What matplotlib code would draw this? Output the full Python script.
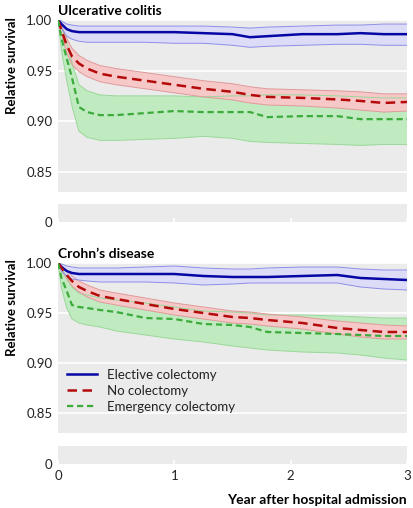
import matplotlib
matplotlib.use("Agg")
import matplotlib.pyplot as plt
import numpy as np

plt.rcParams['font.family'] = ['Lato', 'DejaVu Sans']

# ---------------- data ----------------
years = [0, 0.03, 0.075, 0.12, 0.18, 0.25, 0.36, 0.5, 0.75, 1.0, 1.25, 1.5, 1.65, 1.8, 2.1, 2.4, 2.6, 2.8, 3.0]

# Ulcerative colitis
uc_elective = [1.0, 0.996, 0.991, 0.989, 0.988, 0.988, 0.988, 0.988, 0.988, 0.988, 0.987, 0.986, 0.983, 0.984, 0.986, 0.986, 0.987, 0.986, 0.986]
uc_elective_hi = [1.0, 0.999, 0.996, 0.995, 0.994, 0.994, 0.994, 0.994, 0.994, 0.994, 0.994, 0.993, 0.992, 0.993, 0.994, 0.995, 0.995, 0.996, 0.996]
uc_elective_lo = [1.0, 0.992, 0.984, 0.981, 0.979, 0.978, 0.978, 0.978, 0.978, 0.977, 0.977, 0.975, 0.973, 0.974, 0.975, 0.976, 0.976, 0.975, 0.975]

uc_none = [1.0, 0.990, 0.975, 0.964, 0.957, 0.952, 0.947, 0.944, 0.940, 0.936, 0.932, 0.929, 0.926, 0.924, 0.923, 0.9215, 0.920, 0.918, 0.919]
uc_none_hi = [1.0, 0.994, 0.982, 0.972, 0.965, 0.960, 0.955, 0.952, 0.948, 0.944, 0.940, 0.937, 0.934, 0.932, 0.931, 0.930, 0.929, 0.927, 0.927]
uc_none_lo = [1.0, 0.986, 0.968, 0.956, 0.949, 0.944, 0.939, 0.936, 0.932, 0.928, 0.924, 0.921, 0.918, 0.916, 0.915, 0.913, 0.911, 0.909, 0.910]

uc_emerg = [1.0, 0.982, 0.962, 0.943, 0.914, 0.909, 0.906, 0.906, 0.908, 0.910, 0.909, 0.909, 0.909, 0.904, 0.905, 0.905, 0.902, 0.902, 0.902]
uc_emerg_hi = [1.0, 0.992, 0.978, 0.958, 0.936, 0.930, 0.926, 0.925, 0.925, 0.925, 0.924, 0.925, 0.925, 0.926, 0.926, 0.925, 0.924, 0.923, 0.923]
uc_emerg_lo = [1.0, 0.970, 0.940, 0.915, 0.890, 0.884, 0.881, 0.881, 0.882, 0.883, 0.885, 0.883, 0.880, 0.879, 0.878, 0.877, 0.876, 0.877, 0.877]

# Crohn's disease
cd_elective = [1.0, 0.996, 0.992, 0.990, 0.989, 0.989, 0.989, 0.989, 0.989, 0.989, 0.987, 0.986, 0.986, 0.986, 0.987, 0.988, 0.985, 0.984, 0.983]
cd_elective_hi = [1.0, 0.999, 0.997, 0.996, 0.995, 0.995, 0.995, 0.995, 0.996, 0.997, 0.995, 0.994, 0.994, 0.995, 0.996, 0.996, 0.994, 0.993, 0.993]
cd_elective_lo = [1.0, 0.992, 0.987, 0.984, 0.983, 0.982, 0.981, 0.981, 0.981, 0.980, 0.978, 0.979, 0.980, 0.980, 0.980, 0.980, 0.976, 0.974, 0.973]

cd_none = [1.0, 0.995, 0.988, 0.982, 0.976, 0.972, 0.967, 0.964, 0.959, 0.954, 0.950, 0.946, 0.945, 0.943, 0.940, 0.935, 0.933, 0.931, 0.931]
cd_none_hi = [1.0, 0.997, 0.992, 0.987, 0.982, 0.978, 0.973, 0.970, 0.965, 0.960, 0.956, 0.952, 0.951, 0.949, 0.946, 0.942, 0.940, 0.938, 0.937]
cd_none_lo = [1.0, 0.993, 0.984, 0.977, 0.971, 0.966, 0.961, 0.958, 0.953, 0.948, 0.944, 0.940, 0.939, 0.937, 0.934, 0.929, 0.926, 0.924, 0.924]

cd_emerg = [1.0, 0.985, 0.972, 0.958, 0.956, 0.955, 0.953, 0.951, 0.945, 0.944, 0.939, 0.938, 0.936, 0.931, 0.930, 0.929, 0.928, 0.927, 0.927]
cd_emerg_hi = [1.0, 0.995, 0.986, 0.976, 0.970, 0.968, 0.965, 0.963, 0.960, 0.956, 0.952, 0.951, 0.950, 0.948, 0.948, 0.947, 0.946, 0.945, 0.945]
cd_emerg_lo = [1.0, 0.975, 0.955, 0.944, 0.940, 0.938, 0.936, 0.932, 0.928, 0.924, 0.921, 0.917, 0.915, 0.913, 0.911, 0.910, 0.908, 0.905, 0.903]

panel_titles = ["Ulcerative colitis", "Crohn\u2019s disease"]
series_labels = ["Elective colectomy", "No colectomy", "Emergency colectomy"]
y_ticks = [0.85, 0.90, 0.95, 1.00]
y_ticklabels = ["0.85", "0.90", "0.95", "1.00"]
x_ticks = [0, 1, 2, 3]

# ---------------- style ----------------
BG = "#ebebeb"
line_cols = ["#0606a4", "#b40a0a", "#3cab3c"]
fill_cols = ["#dcdcf8", "#f7c8c8", "#c0eac0"]
edge_cols = ["#8e8ee8", "#e09a9a", "#9ad89a"]
dashes = [None, (3.8, 2.2), (2.8, 1.7)]
lws = [1.8, 1.8, 1.6]
TXT = "#222222"

W, H = 414, 508
fig = plt.figure(figsize=(W / 100, H / 100), dpi=100)

def fx(px):
    return px / W

def fy(py):
    return 1 - py / H

left = fx(58)
width = fx(407) - fx(58)

panels = [
    dict(main=(20, 192), strip=(204, 222),
         data=[(uc_elective, uc_elective_lo, uc_elective_hi),
               (uc_none, uc_none_lo, uc_none_hi),
               (uc_emerg, uc_emerg_lo, uc_emerg_hi)],
         ylab_y=66),
    dict(main=(263, 433), strip=(446, 464),
         data=[(cd_elective, cd_elective_lo, cd_elective_hi),
               (cd_none, cd_none_lo, cd_none_hi),
               (cd_emerg, cd_emerg_lo, cd_emerg_hi)],
         ylab_y=308),
]

for i, p in enumerate(panels):
    t, b = p["main"]
    ax = fig.add_axes([left, fy(b), width, (b - t) / H])
    ax.set_facecolor(BG)
    for s in ax.spines.values():
        s.set_visible(False)
    ax.set_xlim(0, 3)
    ax.set_ylim(0.83, 1.0)
    ax.set_yticks(y_ticks)
    ax.set_yticklabels(y_ticklabels)
    ax.set_xticks([])
    ax.tick_params(axis='y', length=0, pad=4, labelsize=9.5, labelcolor=TXT)
    ax.grid(axis='y', color='white', linewidth=1.2)
    ax.set_axisbelow(True)
    # fills: green, red, blue order
    for k in [2, 1, 0]:
        m, lo, hi = p["data"][k]
        ax.fill_between(years, lo, hi, facecolor=fill_cols[k], edgecolor='none', zorder=2)
        ax.plot(years, lo, color=edge_cols[k], lw=0.7, zorder=2.5)
        ax.plot(years, hi, color=edge_cols[k], lw=0.7, zorder=2.5)
    handles = []
    for k in [0, 1, 2]:
        m, lo, hi = p["data"][k]
        ln, = ax.plot(years, m, color=line_cols[k], lw=lws[k], zorder=4,
                      label=series_labels[k])
        if dashes[k] is not None:
            ln.set_dashes(dashes[k])
        handles.append(ln)
    ax.text(0, 1.003, panel_titles[i], transform=ax.get_yaxis_transform(),
            fontsize=10, fontweight='bold', color='black', ha='left', va='bottom')
    fig.text(fx(12), fy(p["ylab_y"]), "Relative survival", rotation=90,
             fontsize=9.5, fontweight='bold', ha='center', va='center', color='black')
    if i == 1:
        leg = ax.legend(handles=handles, loc='upper left', frameon=False,
                        fontsize=9.5, handlelength=2.3, handletextpad=0.7,
                        labelspacing=0.3, borderaxespad=0, borderpad=0)
        leg.set_bbox_to_anchor((9 / 349, (433 - 369) / 170), transform=ax.transAxes)
        for txt in leg.get_texts():
            txt.set_color(TXT)

    # strip axis
    st, sb = p["strip"]
    sax = fig.add_axes([left, fy(sb), width, (sb - st) / H])
    sax.set_facecolor(BG)
    for s in sax.spines.values():
        s.set_visible(False)
    sax.set_xlim(0, 3)
    sax.set_ylim(0, 1)
    sax.set_yticks([0])
    sax.set_yticklabels(["0"])
    sax.tick_params(axis='y', length=0, pad=4, labelsize=9.5, labelcolor=TXT)
    sax.set_xticks(x_ticks)
    sax.tick_params(axis='x', direction='in', length=3, width=1.2, color='white',
                    labelsize=9.5, labelcolor=TXT, pad=4)
    if i == 0:
        sax.set_xticklabels([])
    else:
        sax.set_xticklabels([str(v) for v in x_ticks])

fig.text(fx(407), fy(500), "Year after hospital admission", fontsize=10,
         fontweight='bold', ha='right', va='center', color='black')

fig.savefig("out.png", dpi=100)
